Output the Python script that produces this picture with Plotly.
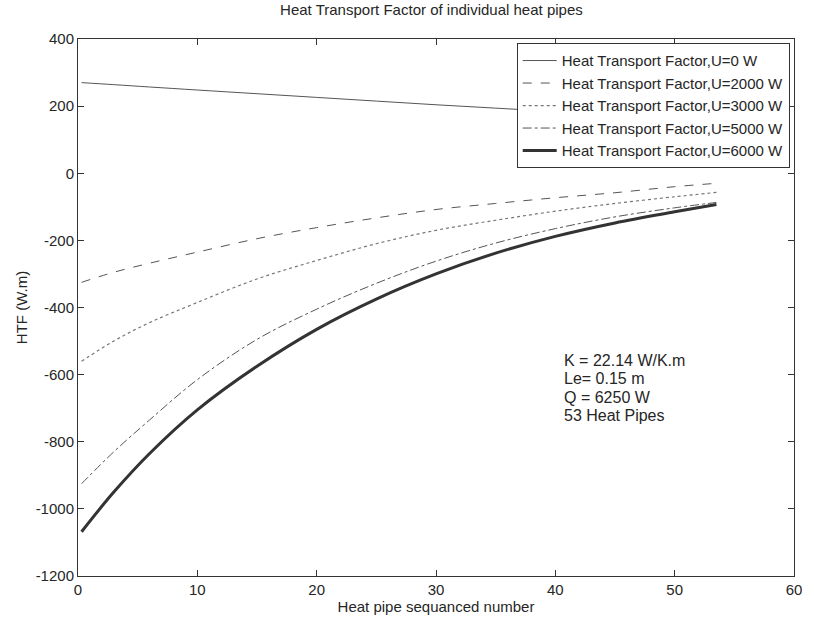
import plotly.graph_objects as go

# Heat pipe sequence positions
x_pos = [0.3, 3, 6, 10, 15, 20, 25, 30, 35, 40, 45, 50, 53.5]

htf_u0 = [270, 264, 257, 248, 237, 226, 215, 204, 194, 184, 174, 165, 158]
htf_u2000 = [-325, -295, -268, -235, -195, -162, -133, -108, -90, -73, -58, -40, -30]
htf_u3000 = [-560, -500, -445, -385, -315, -260, -210, -170, -140, -113, -90, -70, -57]
htf_u5000 = [-925, -830, -735, -615, -495, -405, -328, -262, -208, -165, -130, -103, -87]
htf_u6000 = [-1068, -950, -835, -705, -575, -465, -375, -300, -238, -188, -148, -115, -93]

series_names = [
    "Heat Transport Factor,U=0 W",
    "Heat Transport Factor,U=2000 W",
    "Heat Transport Factor,U=3000 W",
    "Heat Transport Factor,U=5000 W",
    "Heat Transport Factor,U=6000 W",
]
series_values = [htf_u0, htf_u2000, htf_u3000, htf_u5000, htf_u6000]

x_ticks = [0, 10, 20, 30, 40, 50, 60]
x_tick_labels = ["0", "10", "20", "30", "40", "50", "60"]
y_ticks = [-1200, -1000, -800, -600, -400, -200, 0, 200, 400]
y_tick_labels = ["-1200", "-1000", "-800", "-600", "-400", "-200", "0", "200", "400"]

title_text = "Heat Transport Factor of individual heat pipes"
x_title = "Heat pipe sequanced number"
y_title = "HTF (W.m)"
note_lines = ["K = 22.14 W/K.m", "Le= 0.15 m", "Q = 6250 W", "53 Heat Pipes"]
note_x = 40.6
note_y = [-558, -613, -668, -722]

dashes = ["solid", "dash", "dot", "dashdot", "solid"]
widths = [1, 1, 1.2, 1, 3]
colors = ["#555555", "#555555", "#777777", "#555555", "#333333"]
FONT = "Liberation Sans, Arial, sans-serif"
TXT = "#262626"

fig = go.Figure()
for name, vals, d, w, c in zip(series_names, series_values, dashes, widths, colors):
    fig.add_trace(go.Scatter(
        x=x_pos, y=vals, mode="lines", name=name,
        line=dict(color=c, width=w, dash=d, shape="spline"),
    ))

axis_common = dict(
    showline=True, linecolor="#333333", linewidth=1, mirror="ticks",
    ticks="inside", ticklen=6, tickcolor="#333333", showgrid=False,
    zeroline=False, tickfont=dict(family=FONT, size=15, color=TXT),
)

fig.update_layout(
    width=814, height=621,
    margin=dict(l=78, r=14, t=39, b=43),
    paper_bgcolor="white", plot_bgcolor="white",
    font=dict(family=FONT, color=TXT),
    title=dict(text=title_text, x=0.53, xanchor="center", y=0.992, yanchor="top",
               font=dict(size=15, color=TXT)),
    xaxis=dict(range=[0, 60], tickvals=x_ticks, ticktext=x_tick_labels,
               title=dict(text=x_title, font=dict(size=15), standoff=0),
               **axis_common),
    yaxis=dict(range=[-1200, 400], tickvals=y_ticks, ticktext=y_tick_labels,
               title=dict(text=y_title, font=dict(size=15), standoff=4),
               **axis_common),
    legend=dict(x=0.994, xanchor="right", y=0.992, yanchor="top",
                bgcolor="white", bordercolor="#333333", borderwidth=1,
                font=dict(size=15, color=TXT), tracegroupgap=0, itemwidth=34),
    showlegend=True,
)

for line_text, yy in zip(note_lines, note_y):
    fig.add_annotation(
        x=note_x, y=yy, xref="x", yref="y", xanchor="left", yanchor="middle",
        text=line_text, showarrow=False, align="left",
        font=dict(size=16, color=TXT),
    )

fig.write_html("out.html")
